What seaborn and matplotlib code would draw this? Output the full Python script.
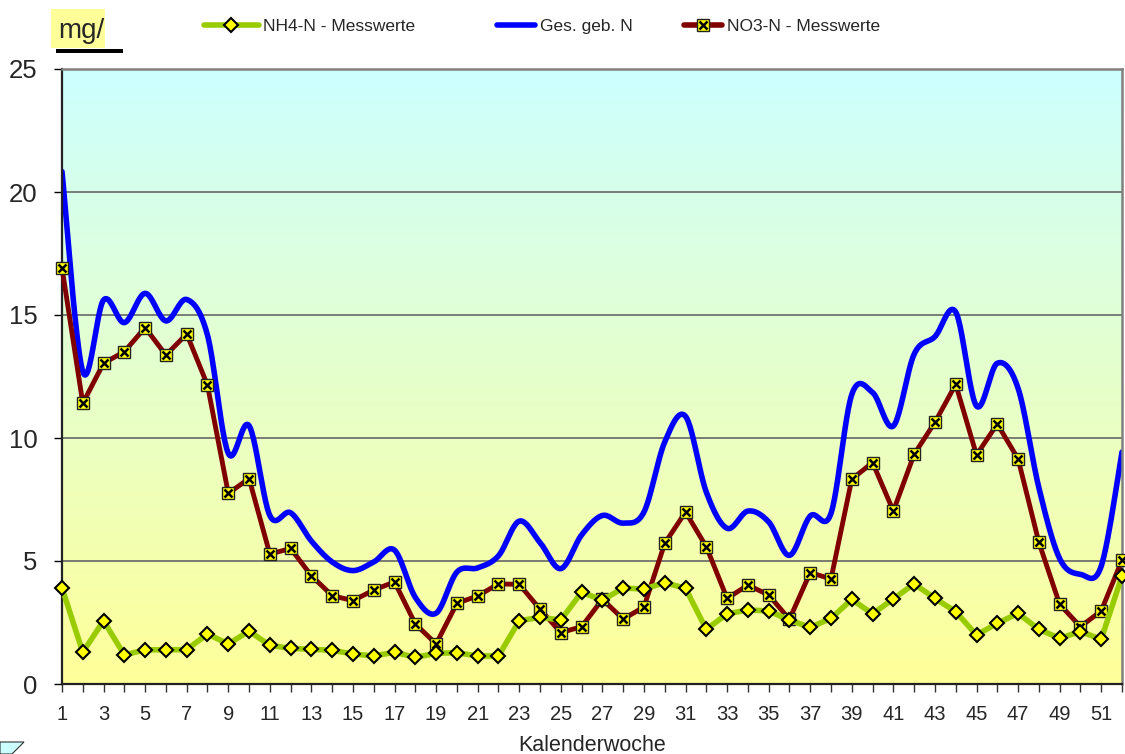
import numpy as np
import pandas as pd
import matplotlib
matplotlib.use("Agg")
import matplotlib.pyplot as plt
import seaborn as sns
from matplotlib.lines import Line2D
from matplotlib.patches import Rectangle, Polygon
from matplotlib.colors import LinearSegmentedColormap
from matplotlib.legend_handler import HandlerTuple

# ---------------- data ----------------
weeks = list(range(1, 53))
nh4 = [3.91, 1.29, 2.57, 1.18, 1.39, 1.39, 1.40, 2.03, 1.63, 2.15,
       1.57, 1.45, 1.41, 1.37, 1.22, 1.14, 1.29, 1.08, 1.25, 1.27,
       1.14, 1.14, 2.57, 2.71, 2.60, 3.73, 3.41, 3.90, 3.86, 4.12,
       3.89, 2.22, 2.85, 3.01, 2.97, 2.60, 2.30, 2.67, 3.44, 2.85,
       3.46, 4.07, 3.48, 2.94, 1.99, 2.47, 2.87, 2.22, 1.86, 2.13,
       1.82, 4.39]
no3 = [16.92, 11.41, 13.04, 13.51, 14.49, 13.37, 14.23, 12.15, 7.75, 8.35,
       5.28, 5.51, 4.40, 3.59, 3.39, 3.82, 4.15, 2.44, 1.63, 3.28,
       3.58, 4.07, 4.05, 3.04, 2.09, 2.33, 3.44, 2.64, 3.13, 5.72,
       6.99, 5.58, 3.48, 4.02, 3.62, 2.63, 4.53, 4.27, 8.33, 9.00,
       7.03, 9.34, 10.64, 12.18, 9.31, 10.57, 9.15, 5.76, 3.24, 2.33,
       2.97, 5.04]
ges = [20.83, 12.70, 15.61, 14.69, 15.88, 14.76, 15.63, 14.18, 9.38, 10.50,
       6.85, 6.96, 5.81, 4.96, 4.61, 4.96, 5.44, 3.52, 2.88, 4.55,
       4.72, 5.21, 6.62, 5.75, 4.69, 6.06, 6.85, 6.54, 6.99, 9.84,
       10.88, 7.80, 6.33, 7.03, 6.59, 5.23, 6.83, 6.94, 11.77, 11.85,
       10.49, 13.41, 14.12, 15.12, 11.30, 13.04, 12.02, 7.98, 5.10, 4.46,
       4.79, 9.43]
series_names = ["NH4-N - Messwerte", "Ges. geb. N", "NO3-N - Messwerte"]
y_ticks = [0, 5, 10, 15, 20, 25]
x_label = "Kalenderwoche"
unit_label = "mg/"

# ---------------- style ----------------
sns.set_style("white")
plt.rcParams["font.family"] = ["Liberation Sans", "DejaVu Sans"]

W, H = 1125, 754
fig = plt.figure(figsize=(W / 100, H / 100), dpi=100)

def fx(px):
    return px / W

def fy(py):
    return 1 - py / H

ax = fig.add_axes([fx(62), fy(684), fx(1122) - fx(62), fy(69) - fy(684)])

# gradient background
cmap = LinearSegmentedColormap.from_list("bg", ["#FFFF99", "#CCFFFF"])
grad = np.linspace(0, 1, 256).reshape(-1, 1)
ax.imshow(grad, extent=[1, 52, 0, 25], origin="lower", aspect="auto",
          cmap=cmap, zorder=0, interpolation="bilinear")

# grid lines
for v in y_ticks[1:-1]:
    ax.axhline(v, color="#666666", lw=1.2, zorder=1)

# smoothed total line (Excel-like Catmull-Rom bezier)
def smooth(x, y, n=24):
    pts = np.column_stack([x, y]).astype(float)
    P = np.vstack([pts[0], pts, pts[-1]])
    out = []
    t = np.linspace(0, 1, n, endpoint=False)[:, None]
    for i in range(len(pts) - 1):
        p0, p1, p2, p3 = P[i], P[i + 1], P[i + 2], P[i + 3]
        b1 = p1 + (p2 - p0) / 6
        b2 = p2 - (p3 - p1) / 6
        seg = ((1 - t) ** 3) * p1 + 3 * ((1 - t) ** 2) * t * b1 + 3 * (1 - t) * t ** 2 * b2 + t ** 3 * p2
        out.append(seg)
    out.append(pts[-1][None, :])
    arr = np.vstack(out)
    return arr[:, 0], arr[:, 1]

sx, sy = smooth(weeks, ges)
sns.lineplot(x=sx, y=sy, ax=ax, color="#0000FF", lw=4.0, sort=False,
             zorder=3, legend=False)

# NO3 line with yellow square + x markers
df = pd.DataFrame({"week": weeks, "nh4": nh4, "no3": no3})
sns.lineplot(data=df, x="week", y="no3", ax=ax, color="#800000", lw=3.5,
             marker="s", markersize=8, markerfacecolor="#FFFF00",
             markeredgecolor="#222222", markeredgewidth=1.0, zorder=8,
             legend=False, clip_on=False)
ax.plot(df["week"], df["no3"], ls="none", marker="x", ms=6, mew=1.8,
        color="black", zorder=9, clip_on=False)

# NH4 line with yellow diamonds
sns.lineplot(data=df, x="week", y="nh4", ax=ax, color="#99CC00", lw=4.0,
             marker="D", markersize=7.5, markerfacecolor="#FFFF00",
             markeredgecolor="black", markeredgewidth=1.5, zorder=10,
             legend=False, clip_on=False)

# axes
ax.set_xlim(1, 52)
ax.set_ylim(0, 25)
ax.set_yticks(y_ticks)
ax.set_yticklabels([str(v) for v in y_ticks], fontsize=18.5)
ax.set_xticks(weeks)
ax.set_xticklabels([str(w) if w % 2 == 1 else "" for w in weeks], fontsize=14.5)
ax.tick_params(axis="y", direction="out", length=5.5, width=1.0, color="black",
               pad=12, left=True)
ax.tick_params(axis="x", direction="out", length=6, width=1.0, color="#333333",
               pad=9, bottom=True)
ax.set_xlabel(x_label, fontsize=15.5, labelpad=8)
ax.set_ylabel("")
for side in ["top", "right"]:
    ax.spines[side].set_color("#808080")
    ax.spines[side].set_linewidth(1.8)
for side in ["left", "bottom"]:
    ax.spines[side].set_color("#222222")
    ax.spines[side].set_linewidth(1.6)
for s in ax.spines.values():
    s.set_zorder(7)
ax.grid(False)

# legends (three separate entries across the top)
fs_leg = 12.5
h_nh4 = Line2D([], [], color="#99CC00", lw=4, marker="D", ms=7,
               mfc="#FFFF00", mec="black", mew=1.5)
h_ges = Line2D([], [], color="#0000FF", lw=4)
h_no3a = Line2D([], [], color="#800000", lw=4, marker="s", ms=8,
                mfc="#FFFF00", mec="#222222", mew=1.0)
h_no3b = Line2D([], [], ls="none", marker="x", ms=6, mew=1.8, color="black")

def put_legend(handle, label, x_px, hlen):
    leg = fig.legend([handle], [label], loc="center left",
                     bbox_to_anchor=(fx(x_px), fy(26)), frameon=False,
                     fontsize=fs_leg, handlelength=hlen, handletextpad=0.25,
                     borderpad=0, borderaxespad=0,
                     handler_map={tuple: HandlerTuple(ndivide=1)})
    return leg

put_legend(h_nh4, series_names[0], 204, 3.15)
put_legend(h_ges, series_names[1], 497, 2.2)
put_legend((h_no3a, h_no3b), series_names[2], 684, 2.2)

# unit label with yellow box and black bar
fig.patches.append(Rectangle((fx(51), fy(48)), fx(105) - fx(51), fy(9) - fy(48),
                             transform=fig.transFigure, facecolor="#FFFF99",
                             edgecolor="none", zorder=1))
fig.text(fx(58), fy(38), unit_label, fontsize=20, ha="left", va="baseline",
         zorder=2)
fig.patches.append(Rectangle((fx(56), fy(53)), fx(123) - fx(56), fy(49) - fy(53),
                             transform=fig.transFigure, facecolor="black",
                             edgecolor="none", zorder=2))

# small corner shape bottom-left
fig.patches.append(Polygon([(fx(0), fy(742)), (fx(24), fy(742)), (fx(12), fy(754)),
                            (fx(0), fy(754))], closed=True,
                           transform=fig.transFigure, facecolor="#CCFFFF",
                           edgecolor="#333333", lw=0.8))

fig.savefig("out.png", dpi=100)
